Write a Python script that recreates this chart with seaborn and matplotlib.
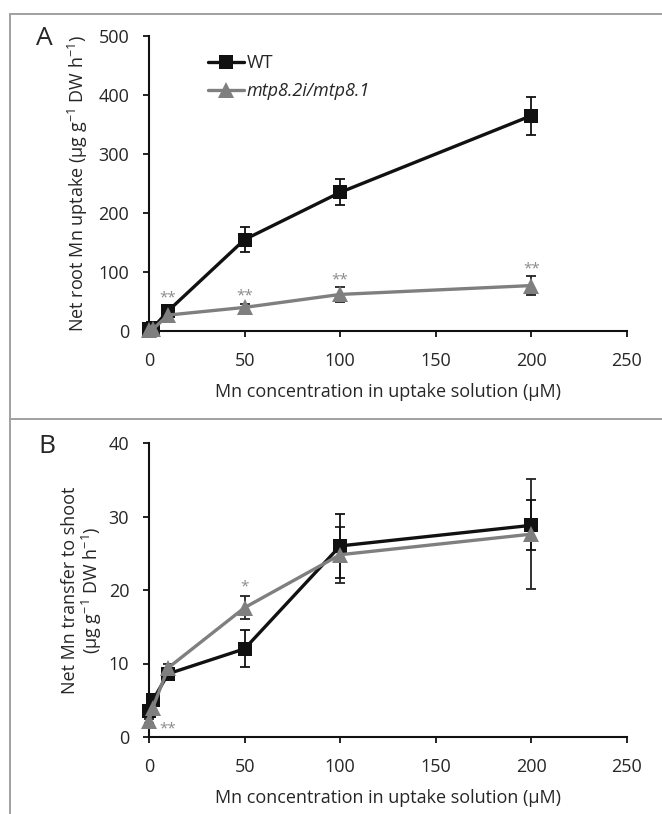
import numpy as np
import pandas as pd
import matplotlib
matplotlib.use("Agg")
import matplotlib.pyplot as plt
import seaborn as sns
from matplotlib.lines import Line2D

# ---------------- data ----------------
conc = [0, 2, 10, 50, 100, 200]
genotypes = ["WT", "mtp8.2i/mtp8.1"]

# Panel A: net root Mn uptake
a_wt = [3, 5, 34, 155, 235, 365]
a_wt_err = [2, 2, 4, 21, 22, 32]
a_mut = [1, 3, 27, 40, 62, 77]
a_mut_err = [1, 2, 4, 5, 13, 16]

# Panel B: net Mn transfer to shoot
b_wt = [3.5, 5.0, 8.6, 12.0, 26.0, 28.8]
b_wt_err = [0.5, 0.6, 0.8, 2.5, 4.4, 3.4]
b_mut = [2.2, 4.0, 9.4, 17.6, 24.8, 27.6]
b_mut_err = [0.3, 0.5, 0.6, 1.6, 3.8, 7.5]

# significance marks (x, y baseline, text)
a_sig_x = [10, 50, 100, 200]
a_sig_y = [50, 54, 80, 100]
a_sig_t = ["**", "**", "**", "**"]
b_sig_x = [5.5, 50]
b_sig_y = [0.6, 20.0]
b_sig_t = ["**", "*"]

xticks = [0, 50, 100, 150, 200, 250]
a_yticks = [0, 100, 200, 300, 400, 500]
b_yticks = [0, 10, 20, 30, 40]

# ---------------- style ----------------
sns.set_theme(style="ticks")
plt.rcParams["font.family"] = ["Open Sans", "DejaVu Sans"]
plt.rcParams["mathtext.fontset"] = "custom"
plt.rcParams["mathtext.rm"] = "Open Sans"

FS = 13
TXT = "#262626"
WT_C = "#111111"
MUT_C = "#7f7f7f"
palette = {genotypes[0]: WT_C, genotypes[1]: MUT_C}
markers = {genotypes[0]: "s", genotypes[1]: "^"}

W, H = 662, 814
fig = plt.figure(figsize=(W / 100, H / 100), dpi=100)
axA = fig.add_axes([149 / W, 1 - 331 / H, (627 - 149) / W, (331 - 36) / H])
axB = fig.add_axes([149 / W, 1 - 737 / H, (627 - 149) / W, (737 - 443) / H])


def make_df(wt, mut):
    return pd.DataFrame({
        "conc": conc * 2,
        "value": list(wt) + list(mut),
        "genotype": [genotypes[0]] * len(conc) + [genotypes[1]] * len(conc),
    })


def draw(ax, wt, wt_err, mut, mut_err, ylim, yticks, sig_x, sig_y, sig_t, legend):
    df = make_df(wt, mut)
    ax.errorbar(conc, mut, yerr=mut_err, fmt="none", ecolor="#222222",
                elinewidth=1.3, capsize=3.6, capthick=1.3, zorder=2, clip_on=False)
    ax.errorbar(conc, wt, yerr=wt_err, fmt="none", ecolor="#111111",
                elinewidth=1.3, capsize=3.6, capthick=1.3, zorder=2, clip_on=False)
    sns.lineplot(data=df, x="conc", y="value", hue="genotype", style="genotype",
                 palette=palette, markers=markers, dashes=False, linewidth=2.4,
                 markersize=10.5, markeredgewidth=0, legend=legend, ax=ax,
                 hue_order=genotypes, style_order=genotypes, zorder=3)
    for ln in ax.lines:
        ln.set_clip_on(False)
        if ln.get_marker() == "^":
            ln.set_markersize(11.5)
    for sx, sy, st in zip(sig_x, sig_y, sig_t):
        ax.text(sx, sy, st, ha="center", va="baseline", fontsize=11, color="#8a8a8a")
    ax.set_xlim(0, 250)
    ax.set_ylim(*ylim)
    ax.set_xticks(xticks)
    ax.set_yticks(yticks)
    sns.despine(ax=ax)
    for sp in ["left", "bottom"]:
        ax.spines[sp].set_linewidth(1.5)
        ax.spines[sp].set_color("#111111")
    ax.tick_params(axis="both", direction="out", length=4.3, width=1.3,
                   colors="#111111", labelcolor=TXT, labelsize=FS)
    ax.tick_params(axis="x", pad=10.5)
    ax.tick_params(axis="y", pad=10)
    ax.set_xlabel("Mn concentration in uptake solution (\u00b5M)", fontsize=FS,
                  color=TXT, labelpad=10)
    ax.set_facecolor("white")


draw(axA, a_wt, a_wt_err, a_mut, a_mut_err, (0, 500), a_yticks,
     a_sig_x, a_sig_y, a_sig_t, True)
draw(axB, b_wt, b_wt_err, b_mut, b_mut_err, (0, 40), b_yticks,
     b_sig_x, b_sig_y, b_sig_t, False)
axB.texts[0].set_ha("left")

axA.set_ylabel("Net root Mn uptake (\u00b5g g$^{-1}$ DW h$^{-1}$)", fontsize=FS,
               color=TXT)
axA.yaxis.set_label_coords(-0.123, 0.5)
axB.set_ylabel("Net Mn transfer to shoot\n(\u00b5g g$^{-1}$ DW h$^{-1}$)", fontsize=FS,
               color=TXT, linespacing=1.05)
axB.yaxis.set_label_coords(-0.094, 0.5)

# legend
h, l = axA.get_legend_handles_labels()
leg = axA.legend(h, l, loc="upper left", bbox_to_anchor=(0.109, 0.962), frameon=False,
                 handlelength=2.0, handletextpad=0.1, labelspacing=0.55, fontsize=FS,
                 borderaxespad=0)
for t in leg.get_texts():
    t.set_color(TXT)
leg.get_texts()[1].set_fontstyle("italic")

# panel letters
fig.text(44.5 / W, 1 - 38.5 / H, "A", fontsize=19, color=TXT, va="center", ha="center")
fig.text(47 / W, 1 - 446 / H, "B", fontsize=19, color=TXT, va="center", ha="center")

# panel borders
bc = "#a0a0a0"
fig.add_artist(Line2D([10 / W, 10 / W], [0, 1 - 14 / H], color=bc, lw=1.4))
fig.add_artist(Line2D([10 / W, 1], [1 - 14 / H, 1 - 14 / H], color=bc, lw=1.4))
fig.add_artist(Line2D([10 / W, 1], [1 - 419 / H, 1 - 419 / H], color=bc, lw=1.4))

fig.savefig("out.png", dpi=100, facecolor="white")
